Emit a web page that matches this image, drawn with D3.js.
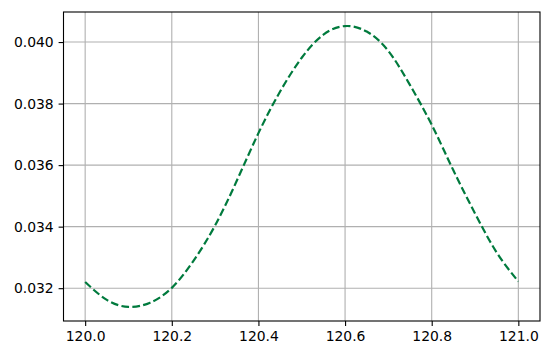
<!DOCTYPE html>
<html>
<head>
<meta charset="utf-8">
<script src="https://cdn.jsdelivr.net/npm/d3@7"></script>
<style>
  body { margin: 0; background: #fff; }
  svg { display: block; font-family: 'DejaVu Sans', sans-serif; }
  .tick text { font-size: 13.9px; fill: #000; }
</style>
</head>
<body>
<div id="chart"></div>
<script>
  // values
  var xValues = [120.00, 120.05, 120.10, 120.15, 120.20, 120.25, 120.30, 120.35, 120.40, 120.45,
                 120.50, 120.55, 120.60, 120.65, 120.70, 120.75, 120.80, 120.85, 120.90, 120.95, 121.00];
  var yValues = [0.03220, 0.03162, 0.03139, 0.03153, 0.03201, 0.03289, 0.03404, 0.03549, 0.03704, 0.03839,
                 0.03949, 0.04024, 0.04052, 0.04034, 0.03971, 0.03860, 0.03731, 0.03583, 0.03443, 0.03316, 0.03222];
  var xTicks = [120.0, 120.2, 120.4, 120.6, 120.8, 121.0];
  var yTicks = [0.032, 0.034, 0.036, 0.038, 0.040];

  var width = 550, height = 354,
      margin = {top: 12, right: 10, bottom: 33, left: 63.5};

  var data = xValues.map(function(x, i) { return {x: x, y: yValues[i]}; });

  // matplotlib style 5% padding
  var xr = d3.extent(xValues), yr = d3.extent(yValues),
      xp = (xr[1] - xr[0]) * 0.05, yp = (yr[1] - yr[0]) * 0.05;

  var x = d3.scaleLinear().domain([xr[0] - xp, xr[1] + xp]).range([margin.left, width - margin.right]);
  var y = d3.scaleLinear().domain([yr[0] - yp, yr[1] + yp]).range([height - margin.bottom, margin.top]);

  var svg = d3.select("#chart").append("svg")
      .attr("width", width)
      .attr("height", height);

  /*--- grid ---*/
  svg.append("g").selectAll("line").data(xTicks).enter().append("line")
    .attr("x1", function(d) { return x(d); }).attr("x2", function(d) { return x(d); })
    .attr("y1", margin.top).attr("y2", height - margin.bottom)
    .attr("stroke", "#b0b0b0").attr("stroke-width", 1.1);
  svg.append("g").selectAll("line").data(yTicks).enter().append("line")
    .attr("y1", function(d) { return y(d); }).attr("y2", function(d) { return y(d); })
    .attr("x1", margin.left).attr("x2", width - margin.right)
    .attr("stroke", "#b0b0b0").attr("stroke-width", 1.1);

  /*--- curve ---*/
  var line = d3.line()
    .x(function(d) { return x(d.x); })
    .y(function(d) { return y(d.y); })
    .curve(d3.curveNatural);

  svg.append("path")
    .datum(data)
    .attr("d", line)
    .attr("fill", "none")
    .attr("stroke", "#007a3d")
    .attr("stroke-width", 2.2)
    .attr("stroke-dasharray", "7.7,3.3");

  /*--- axes ---*/
  var xAxis = d3.axisBottom(x).tickValues(xTicks).tickFormat(d3.format(".1f")).tickSizeInner(4.9).tickSizeOuter(0).tickPadding(4.9);
  var yAxis = d3.axisLeft(y).tickValues(yTicks).tickFormat(d3.format(".3f")).tickSizeInner(4.9).tickSizeOuter(0).tickPadding(4.9);

  var gx = svg.append("g").attr("transform", "translate(0," + (height - margin.bottom) + ")").call(xAxis);
  var gy = svg.append("g").attr("transform", "translate(" + margin.left + ",0)").call(yAxis);
  [gx, gy].forEach(function(g) {
    g.select(".domain").remove();
    g.selectAll(".tick line").attr("stroke", "#000").attr("stroke-width", 1.1);
    g.selectAll(".tick text").attr("font-family", "'DejaVu Sans', sans-serif");
  });

  // frame
  svg.append("rect")
    .attr("x", margin.left).attr("y", margin.top)
    .attr("width", width - margin.right - margin.left)
    .attr("height", height - margin.bottom - margin.top)
    .attr("fill", "none").attr("stroke", "#000").attr("stroke-width", 1.1);
</script>
</body>
</html>
